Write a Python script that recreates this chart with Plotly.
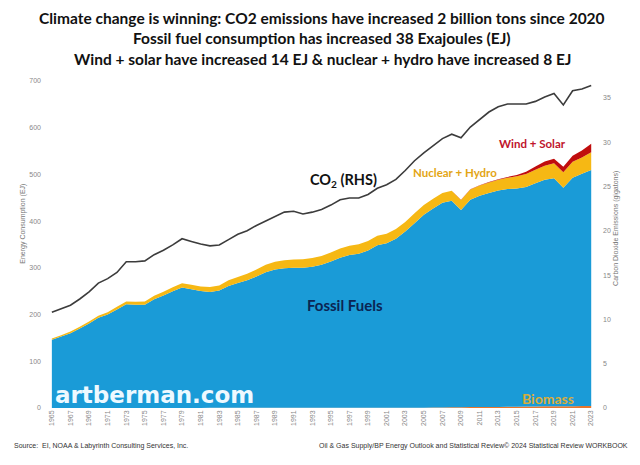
import plotly.graph_objects as go

years = list(range(1965, 2024))

biomass = [0, 0, 0, 0, 0, 0, 0, 0, 0, 0,
           0, 0, 0, 0, 0.1, 0.2, 0.2, 0.3, 0.3, 0.3,
           0.4, 0.4, 0.4, 0.4, 0.4, 0.4, 0.4, 0.4, 0.4, 0.4,
           0.4, 0.4, 0.4, 0.4, 0.4, 0.4, 0.5, 0.5, 0.6, 0.7,
           0.8, 1.0, 1.3, 1.6, 1.8, 2.0, 2.1, 2.2, 2.4, 2.7,
           2.9, 3.0, 3.2, 3.5, 3.8, 3.5, 3.9, 4.2, 4.5]

fossil = [146, 153, 160, 170, 181, 193, 200, 211, 222, 221,
          221, 233, 241, 250, 258, 254, 250, 248, 251, 261,
          267, 273, 281, 290, 296, 299, 300, 300, 302, 306,
          313, 321, 327, 330, 337, 348, 352, 362, 377, 395,
          413, 426, 438, 442, 422, 444, 452, 458, 463, 466,
          467, 470, 478, 485, 488, 468, 489, 497, 505]

nuclear_hydro = [3, 3, 3.5, 4, 4, 4.5, 5, 5.5, 6, 6.5,
                 7, 7.5, 8, 8.5, 9, 9.5, 10, 10.5, 11, 12,
                 13, 14, 15, 16, 16.5, 17, 17.5, 18, 18.5, 19,
                 19.5, 20, 20, 20, 20, 20.5, 20.5, 20.5, 20.5, 21,
                 21, 21, 21, 21.5, 21.5, 22, 22, 22.5, 23, 24,
                 26, 28, 29, 30, 32, 33, 34, 35, 38]

wind_solar = [0] * 40 + [0, 0, 0, 0, 0.3,
                         0.5, 0.7, 1.0, 1.5, 2.0, 3, 5, 7, 9, 10,
                         12, 13, 15, 18, 21, 21, 25, 30, 36]

co2 = [10.8, 11.2, 11.6, 12.3, 13.1, 14.1, 14.6, 15.3, 16.5, 16.5,
       16.6, 17.3, 17.8, 18.4, 19.1, 18.8, 18.5, 18.3, 18.4, 19.0,
       19.6, 20.0, 20.6, 21.1, 21.6, 22.1, 22.2, 21.9, 22.1, 22.4,
       22.9, 23.5, 23.7, 23.7, 24.1, 24.8, 25.2, 25.8, 26.8, 27.9,
       28.8, 29.6, 30.4, 30.9, 30.5, 31.7, 32.6, 33.4, 34.0, 34.3,
       34.3, 34.3, 34.6, 35.1, 35.5, 34.2, 35.8, 36.0, 36.4]

tick_years = list(range(1965, 2024, 2))

fig = go.Figure()

fig.add_trace(go.Scatter(x=years, y=biomass, stackgroup="ej", mode="none",
                         fillcolor="#e8762c", name="Biomass"))
fig.add_trace(go.Scatter(x=years, y=fossil, stackgroup="ej", mode="none",
                         fillcolor="#1a9bd7", name="Fossil Fuels"))
fig.add_trace(go.Scatter(x=years, y=nuclear_hydro, stackgroup="ej", mode="none",
                         fillcolor="#f6b814", name="Nuclear + Hydro"))
fig.add_trace(go.Scatter(x=years, y=wind_solar, stackgroup="ej", mode="none",
                         fillcolor="#c00d0d", name="Wind + Solar"))
fig.add_trace(go.Scatter(x=years, y=co2, yaxis="y2", mode="lines",
                         line=dict(color="#3c3c3c", width=1.6), name="CO2"))

# the page body has an 8px margin, so the figure is drawn 8px in and 8px down
title_lines = [
    "Climate change is winning: CO2 emissions have increased 2 billion tons since 2020",
    "Fossil fuel consumption has increased 38 Exajoules (EJ)",
    "Wind + solar have increased 14 EJ & nuclear + hydro have increased 8 EJ",
]
title_y = [1.193, 1.130, 1.067]
ann = []
for t, ty in zip(title_lines, title_y):
    ann.append(dict(text="<b>" + t + "</b>", xref="paper", yref="paper",
                    x=0.5, y=ty, xanchor="center", yanchor="middle",
                    showarrow=False, font=dict(family="Lato", size=15.5, color="#111")))

labels = [
    ("CO<sub>2</sub> (RHS)", 1996.4, 486, 14.5, "#111"),
    ("Fossil Fuels", 1996.5, 221, 15, "#0b2553"),
    ("Nuclear + Hydro", 2008.3, 504, 11.5, "#e3a514"),
    ("Wind + Solar", 2016.7, 566, 11.5, "#c0142c"),
    ("Biomass", 2018.3, 21, 14, "#d9ad3a"),
]
for t, x, y, s, c in labels:
    ann.append(dict(text="<b>" + t + "</b>", x=x, y=y, xref="x", yref="y",
                    showarrow=False, font=dict(family="Lato", size=s, color=c)))

ann.append(dict(text="<b>artberman.com</b>", x=1965.1, y=27, xref="x", yref="y",
                xanchor="left", showarrow=False,
                font=dict(family="DejaVu Sans", size=23, color="#eef9ff")))

ann.append(dict(text="Energy Consumption (EJ)", xref="paper", yref="paper",
                x=-0.061, y=0.563, textangle=-90, showarrow=False,
                font=dict(family="Liberation Sans", size=7, color="#777")))
ann.append(dict(text="Carbon Dioxide Emissions (gigatons)", xref="paper", yref="paper",
                x=1.051, y=0.55, textangle=-90, showarrow=False,
                font=dict(family="Liberation Sans", size=7, color="#777")))

ann.append(dict(text="Source:  EI, NOAA & Labyrinth Consulting Services, Inc.",
                xref="paper", yref="paper", x=-0.070, y=-0.135, xanchor="left",
                showarrow=False, font=dict(family="Liberation Sans", size=7, color="#333")))
ann.append(dict(text="Oil & Gas Supply/BP Energy Outlook and Statistical Review© 2024 Statistical Review WORKBOOK",
                xref="paper", yref="paper", x=1.066, y=-0.135, xanchor="right",
                showarrow=False, font=dict(family="Liberation Sans", size=7, color="#333")))

fig.update_layout(
    width=632, height=457,
    margin=dict(l=42, r=46, t=73, b=57),
    paper_bgcolor="white", plot_bgcolor="white",
    showlegend=False,
    annotations=ann,
    xaxis=dict(range=[1964.8, 2023.3], tickvals=tick_years,
               ticktext=[str(y) for y in tick_years], tickangle=-90,
               tickfont=dict(family="Liberation Sans", size=7, color="#888"),
               showgrid=False, zeroline=False, showline=False),
    yaxis=dict(range=[0, 700], dtick=100, showgrid=False, zeroline=False,
               tickfont=dict(family="Liberation Sans", size=7, color="#888"),
               ticks="", ticklabelstandoff=8),
    yaxis2=dict(range=[0, 36.9], tickvals=[0, 5, 10, 15, 20, 25, 30, 35],
                overlaying="y", side="right", showgrid=False, zeroline=False,
                tickfont=dict(family="Liberation Sans", size=7, color="#888"),
                ticklabelstandoff=8),
)

fig.write_html("out.html")
